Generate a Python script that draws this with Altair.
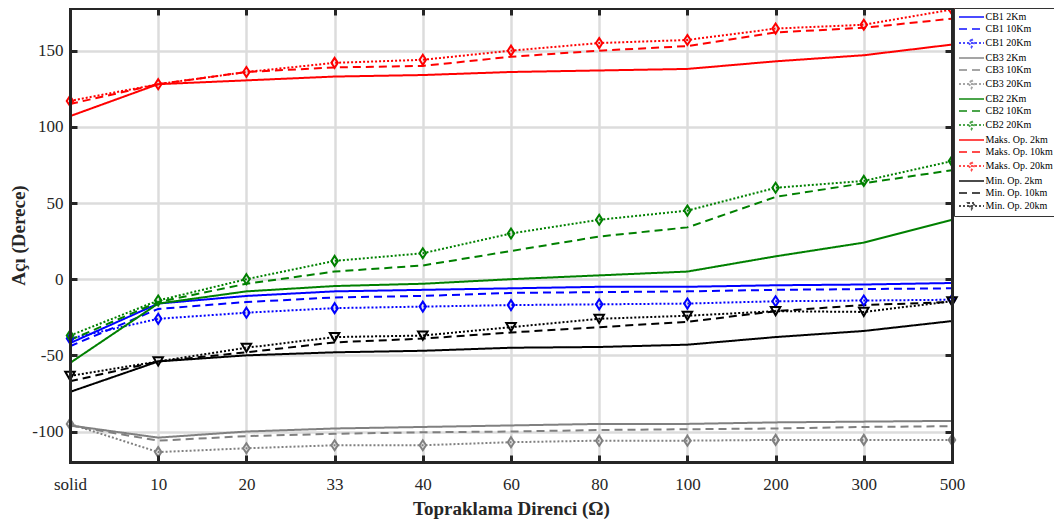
import altair as alt
import pandas as pd

x_labels = ["solid", "10", "20", "33", "40", "60", "80", "100", "200", "300", "500"]

series_names = [
    "CB1 2Km", "CB1 10Km", "CB1 20Km",
    "CB3 2Km", "CB3 10Km", "CB3 20Km",
    "CB2 2Km", "CB2 10Km", "CB2 20Km",
    "Maks. Op. 2km", "Maks. Op. 10km", "Maks. Op. 20km",
    "Min. Op. 2km", "Min. Op. 10km", "Min. Op. 20km",
]

cb1_2km = [-42, -16, -11, -8, -7, -6, -5, -5, -4, -3.5, -2.5]
cb1_10km = [-44, -19.5, -15, -12, -11, -9, -8.5, -8, -7, -6.5, -6]
cb1_20km = [-39, -26, -22, -19, -18, -17, -16.5, -16, -14.5, -14, -13.5]
cb3_2km = [-96, -104, -100, -98, -97, -96, -95, -95, -94, -93.5, -93]
cb3_10km = [-96, -106, -103, -101.5, -100.5, -100, -99, -98.5, -98, -97, -96.5]
cb3_20km = [-95, -113.5, -111, -109, -109, -107, -106, -106, -105.5, -105.5, -105.5]
cb2_2km = [-55, -16, -8, -4.5, -3, 0, 2.5, 5, 15, 24, 39]
cb2_10km = [-40, -15, -3, 5, 9, 18.5, 28, 34, 54, 63, 71.5]
cb2_20km = [-37, -14, 0, 12, 17, 30, 39, 45, 60, 64.5, 77.5]
maks_2km = [107, 128, 130.5, 133, 134, 136, 137, 138, 143, 147, 154]
maks_10km = [115, 128, 136, 139, 140, 146, 150, 153, 162, 165, 171]
maks_20km = [117, 128, 136, 142, 144, 150, 155, 157, 164.5, 167, 177]
min_2km = [-74, -54, -50, -48, -47, -45, -44.5, -43, -38, -34, -27.5]
min_10km = [-67, -54, -48, -41.5, -39, -35, -31.5, -28, -21, -17, -15]
min_20km = [-63.5, -54, -45, -38, -37, -31.5, -26, -24, -21, -21.5, -14.5]

all_values = [
    cb1_2km, cb1_10km, cb1_20km,
    cb3_2km, cb3_10km, cb3_20km,
    cb2_2km, cb2_10km, cb2_20km,
    maks_2km, maks_10km, maks_20km,
    min_2km, min_10km, min_20km,
]

colors = ["#0000FF"] * 3 + ["#808080"] * 3 + ["#008000"] * 3 + ["#FF0000"] * 3 + ["#000000"] * 3
dash_styles = [[1, 0], [8, 5], [2, 2]] * 5

LINE_PATH = "M-2.5,0L2.5,0"
DIA_LEG = "M-2.5,0L2.5,0M0,-0.8L0.5,0L0,0.8L-0.5,0Z"
TRI_LEG = "M-2.5,0L2.5,0M-0.7,-0.6L0.7,-0.6L0,0.6Z"
legend_shapes = [LINE_PATH, LINE_PATH, DIA_LEG] * 4 + [LINE_PATH, LINE_PATH, TRI_LEG]
DIA_MARK = "M0,-1L0.65,0L0,1L-0.65,0Z"

diamond_series = ["CB1 20Km", "CB3 20Km", "CB2 20Km", "Maks. Op. 20km"]
triangle_series = ["Min. Op. 20km"]

rows = []
for name, vals in zip(series_names, all_values):
    for i, (xl, v) in enumerate(zip(x_labels, vals)):
        rows.append({"series": name, "x": xl, "xi": i, "y": v})
df = pd.DataFrame(rows)

FONT = "Liberation Serif"
W, H = 882, 454
FRAME = "#262626"
GRID = "#dcdcdc"
y_ticks = [-100, -50, 0, 50, 100, 150]

xscale = alt.Scale(domain=x_labels, padding=0)
yscale = alt.Scale(domain=[-120, 178], nice=False, zero=False)
cscale = alt.Scale(domain=series_names, range=colors)
dscale = alt.Scale(domain=series_names, range=dash_styles)
sscale = alt.Scale(domain=series_names, range=legend_shapes)


def tick_axis(orient, offset, values=None):
    kw = dict(
        orient=orient, offset=offset, labels=False, grid=False, title=None,
        ticks=True, tickSize=7, tickWidth=3, tickColor=FRAME,
        domain=True, domainWidth=3, domainColor=FRAME, domainCap="square",
        zindex=1,
    )
    if values is not None:
        kw["values"] = values
    return alt.Axis(**kw)


x_main = alt.Axis(
    orient="bottom", title="Topraklama Direnci (Ω)", titleFont=FONT, titleFontSize=19,
    titleFontWeight="bold", titleColor=FRAME, titlePadding=7,
    labelFont=FONT, labelFontSize=17, labelColor=FRAME, labelAngle=0, labelPadding=14,
    ticks=False, domain=False, grid=True, gridColor=GRID, gridWidth=2.5, zindex=0,
)
y_main = alt.Axis(
    orient="left", title="Açı (Derece)", titleFont=FONT, titleFontSize=19,
    titleFontWeight="bold", titleColor=FRAME, titlePadding=3, values=y_ticks,
    labelExpr="'' + datum.value",
    labelFont=FONT, labelFontSize=17, labelColor=FRAME, labelPadding=7,
    ticks=False, domain=False, grid=True, gridColor=GRID, gridWidth=2.5, zindex=0,
)

leg = alt.Legend(
    orient="none", legendX=W + 2, legendY=0, title=None,
    symbolSize=100, symbolOffset=8.5, labelOffset=8, symbolStrokeWidth=2,
    labelFont=FONT, labelFontSize=10, labelColor="black", labelLimit=300,
    padding=3, rowPadding=1, strokeColor="#333333", fillColor="white",
)

# legend-carrying layer (first, so its legend settings win when merged)
legend_layer = alt.Chart(df).mark_point(
    filled=False, strokeWidth=2, size=0
).encode(
    x=alt.X("x:O", scale=xscale, axis=None),
    y=alt.Y("y:Q", scale=yscale, axis=None),
    color=alt.Color("series:N", scale=cscale, legend=leg),
    strokeDash=alt.StrokeDash("series:N", scale=dscale, legend=leg),
    shape=alt.Shape("series:N", scale=sscale, legend=leg),
)

lines = alt.Chart(df).mark_line(strokeWidth=2).encode(
    x=alt.X("x:O", scale=xscale, axis=x_main),
    y=alt.Y("y:Q", scale=yscale, axis=y_main),
    color=alt.Color("series:N", scale=cscale, legend=None),
    strokeDash=alt.StrokeDash("series:N", scale=dscale, legend=None),
    order=alt.Order("xi:Q"),
)

diamonds = alt.Chart(df).transform_filter(
    alt.FieldOneOfPredicate(field="series", oneOf=diamond_series)
).mark_point(shape=DIA_MARK, size=100, filled=False, strokeWidth=2, opacity=1).encode(
    x=alt.X("x:O", scale=xscale, axis=tick_axis("top", -H)),
    y=alt.Y("y:Q", scale=yscale, axis=tick_axis("right", -W, y_ticks)),
    color=alt.Color("series:N", scale=cscale, legend=None),
)

triangles = alt.Chart(df).transform_filter(
    alt.FieldOneOfPredicate(field="series", oneOf=triangle_series)
).mark_point(shape="triangle-down", size=90, filled=False, strokeWidth=2, opacity=1).encode(
    x=alt.X("x:O", scale=xscale, axis=tick_axis("bottom", -H)),
    y=alt.Y("y:Q", scale=yscale, axis=tick_axis("left", -W, y_ticks)),
    color=alt.Color("series:N", scale=cscale, legend=None),
)

chart = alt.layer(legend_layer, lines, diamonds, triangles).resolve_axis(
    x="independent", y="independent"
).properties(
    width=W, height=H,
    autosize=alt.AutoSizeParams(type="none"),
    padding={"left": 62, "top": 0, "right": 102, "bottom": 57},
    background="white",
).configure_view(stroke=None)

chart.save("out.html", embed_options={"renderer": "svg", "actions": False})
